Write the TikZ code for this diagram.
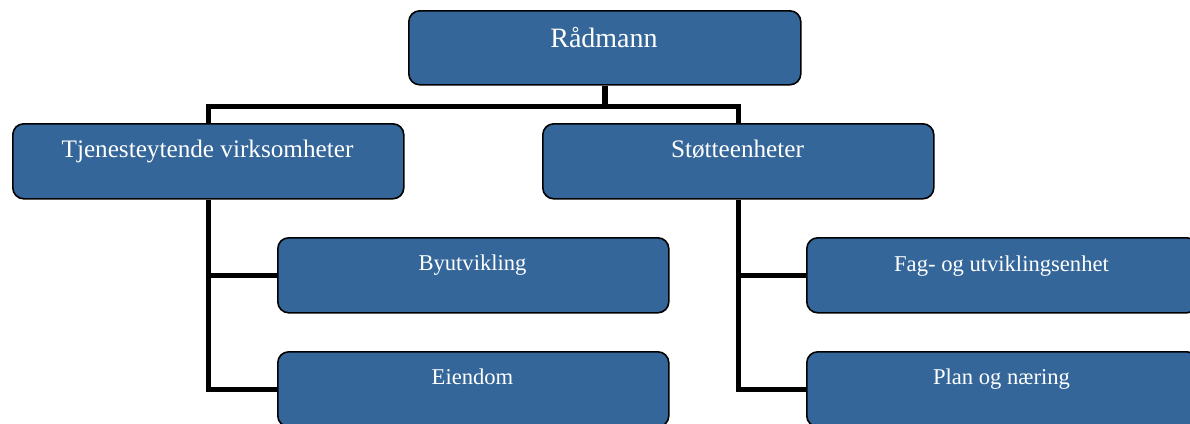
\documentclass[tikz,border=0pt]{standalone}
\usepackage{fontspec}
\setmainfont{Liberation Serif}
\definecolor{boxblue}{HTML}{346699}
\begin{document}
\begin{tikzpicture}[x=1pt,y=-1pt,
  box/.style={draw=black, line width=1.6pt, fill=boxblue, rounded corners=11pt,
    minimum width=391pt, minimum height=75pt, inner sep=0pt, anchor=north west},
  lbl/.style={text=white, inner sep=0pt, anchor=base},
  big/.style={font=\fontsize{28}{30}\selectfont},
  mid/.style={font=\fontsize{25.2}{28}\selectfont},
  small/.style={font=\fontsize{22.6}{25}\selectfont},
  conn/.style={draw=black, line width=5.5pt}]
\useasboundingbox (0,0) rectangle (1190,423);
\clip (0,0) rectangle (1190,423);
% boxes
\node[box, minimum width=392pt, minimum height=74pt] (r) at (408,10) {};
\node[box] (t) at (12,123) {};
\node[box] (s) at (542,123) {};
\node[box] (b) at (277,237) {};
\node[box] (e) at (277,351) {};
\node[box] (f) at (806,237) {};
\node[box] (p) at (806,351) {};
% connectors
\draw[conn] (r.south) -- ++(0,21) -| (t.north);
\draw[conn] (r.south) -- ++(0,21) -| (s.north);
\draw[conn] (t.south) |- (b.west);
\draw[conn] (t.south) |- (e.west);
\draw[conn] (s.south) |- (f.west);
\draw[conn] (s.south) |- (p.west);
% labels
\node[lbl, big] (rt) at (604,47) {Rådmann};
\node[lbl, mid] (tt) at (207.5,157) {Tjenesteytende virksomheter};
\node[lbl, mid] (st) at (737.5,157) {Støtteenheter};
\node[lbl, small] (bt) at (472.5,270.5) {Byutvikling};
\node[lbl, small] (et) at (472.5,384) {Eiendom};
\node[lbl, small] (ft) at (1001.5,271) {Fag- og utviklingsenhet};
\node[lbl, small] (pt) at (1001.5,384) {Plan og næring};
\end{tikzpicture}
\end{document}
